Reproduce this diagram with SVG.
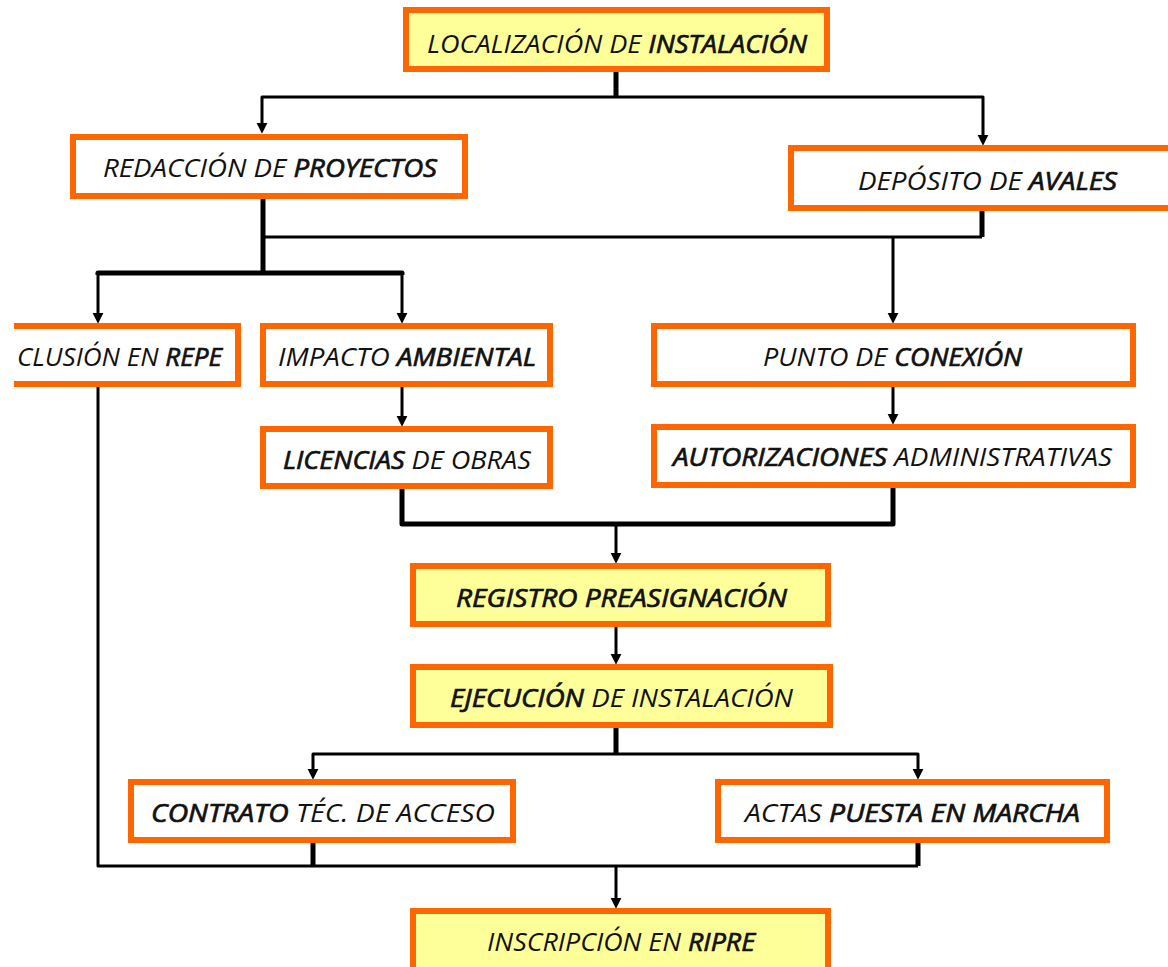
<svg xmlns="http://www.w3.org/2000/svg" width="1168" height="967" viewBox="0 0 1168 967">
  <style>
    .box { stroke: #FF6600; stroke-width: 6; fill: #FFFFFF; }
    .hl { fill: #FFFF99; }
    .lbl { font-family: "Open Sans", "DejaVu Sans", sans-serif; font-style: italic; font-size: 25px; fill: #111111; text-anchor: start; }
    .b { stroke: #111111; stroke-width: 0.7px; }
    .ln { fill: none; stroke: #000000; stroke-width: 3; stroke-linejoin: round; }
    .thk { stroke-width: 5; }
  </style>
  <defs>
    <marker id="arr" markerUnits="userSpaceOnUse" markerWidth="11" markerHeight="12" refX="2" refY="5" orient="auto" viewBox="0 0 10 10">
      <path d="M0,0 L10,5 L0,10 z" fill="#000000"/>
    </marker>
  </defs>

  <g id="connectors">
    <path class="ln thk" d="M616,72 V97"/>
    <path class="ln" d="M616,97 H262 V125" marker-end="url(#arr)"/>
    <path class="ln" d="M616,97 H983 V137" marker-end="url(#arr)"/>
    <path class="ln thk" d="M263,199 V273"/>
    <path class="ln" d="M263,237 H982"/>
    <path class="ln thk" d="M982,198 V237"/>
    <path class="ln" d="M893,237 V315" marker-end="url(#arr)"/>
    <path class="ln thk" d="M98,275 V273 H402 V275"/>
    <path class="ln" d="M98,273 V315" marker-end="url(#arr)"/>
    <path class="ln" d="M402,273 V315" marker-end="url(#arr)"/>
    <path class="ln" d="M402,387 V418" marker-end="url(#arr)"/>
    <path class="ln" d="M893,387 V416" marker-end="url(#arr)"/>
    <path class="ln thk" d="M402,489 V524 H893 V488"/>
    <path class="ln" d="M616,524 V555" marker-end="url(#arr)"/>
    <path class="ln" d="M616,627 V656" marker-end="url(#arr)"/>
    <path class="ln thk" d="M616,728 V754"/>
    <path class="ln" d="M616,754 H313 V771" marker-end="url(#arr)"/>
    <path class="ln" d="M616,754 H918 V771" marker-end="url(#arr)"/>
    <path class="ln" d="M98,387 V866 H918"/>
    <path class="ln thk" d="M313,843 V866"/>
    <path class="ln thk" d="M918,843 V866"/>
    <path class="ln" d="M616,866 V900" marker-end="url(#arr)"/>
  </g>

  <g id="n-localizacion">
    <rect class="box hl" x="406" y="10" width="421" height="59"/>
    <text class="lbl" x="427" y="53" textLength="380" lengthAdjust="spacingAndGlyphs">LOCALIZACIÓN DE <tspan class="b">INSTALACIÓN</tspan></text>
  </g>
  <g id="n-redaccion">
    <rect class="box" x="73" y="137" width="392" height="59"/>
    <text class="lbl" x="103" y="177" textLength="334" lengthAdjust="spacingAndGlyphs">REDACCIÓN DE <tspan class="b">PROYECTOS</tspan></text>
  </g>
  <g id="n-deposito">
    <rect class="box" x="791" y="148" width="400" height="60"/>
    <text class="lbl" x="858" y="190" textLength="259" lengthAdjust="spacingAndGlyphs">DEPÓSITO DE <tspan class="b">AVALES</tspan></text>
  </g>
  <g id="n-inclusion">
    <path class="box" d="M14,326 H238 V384 H14"/>
    <rect x="14" y="329" width="221" height="52" fill="#FFFFFF"/>
    <text class="lbl" x="17" y="366" textLength="205" lengthAdjust="spacingAndGlyphs">CLUSIÓN EN <tspan class="b">REPE</tspan></text>
  </g>
  <g id="n-impacto">
    <rect class="box" x="263" y="326" width="287" height="58"/>
    <text class="lbl" x="278" y="366" textLength="258" lengthAdjust="spacingAndGlyphs">IMPACTO <tspan class="b">AMBIENTAL</tspan></text>
  </g>
  <g id="n-licencias">
    <rect class="box" x="263" y="429" width="287" height="57"/>
    <text class="lbl" x="283" y="469" textLength="248" lengthAdjust="spacingAndGlyphs"><tspan class="b">LICENCIAS</tspan> DE OBRAS</text>
  </g>
  <g id="n-punto">
    <rect class="box" x="654" y="326" width="479" height="58"/>
    <text class="lbl" x="763" y="366" textLength="259" lengthAdjust="spacingAndGlyphs">PUNTO DE <tspan class="b">CONEXIÓN</tspan></text>
  </g>
  <g id="n-autorizaciones">
    <rect class="box" x="654" y="427" width="479" height="58"/>
    <text class="lbl" x="673" y="466" textLength="439" lengthAdjust="spacingAndGlyphs"><tspan class="b">AUTORIZACIONES</tspan> ADMINISTRATIVAS</text>
  </g>
  <g id="n-registro">
    <rect class="box hl" x="413" y="566" width="415" height="58"/>
    <text class="lbl b" x="456" y="607" textLength="331" lengthAdjust="spacingAndGlyphs">REGISTRO PREASIGNACIÓN</text>
  </g>
  <g id="n-ejecucion">
    <rect class="box hl" x="413" y="667" width="417" height="58"/>
    <text class="lbl" x="450" y="707" textLength="343" lengthAdjust="spacingAndGlyphs"><tspan class="b">EJECUCIÓN</tspan> DE INSTALACIÓN</text>
  </g>
  <g id="n-contrato">
    <rect class="box" x="131" y="782" width="382" height="58"/>
    <text class="lbl" x="151" y="822" textLength="344" lengthAdjust="spacingAndGlyphs"><tspan class="b">CONTRATO</tspan> TÉC. DE ACCESO</text>
  </g>
  <g id="n-actas">
    <rect class="box" x="718" y="782" width="389" height="58"/>
    <text class="lbl" x="745" y="822" textLength="335" lengthAdjust="spacingAndGlyphs">ACTAS <tspan class="b">PUESTA EN MARCHA</tspan></text>
  </g>
  <g id="n-inscripcion">
    <rect class="box hl" x="413" y="911" width="415" height="70"/>
    <text class="lbl" x="487" y="951" textLength="268" lengthAdjust="spacingAndGlyphs">INSCRIPCIÓN EN <tspan class="b">RIPRE</tspan></text>
  </g>
</svg>
